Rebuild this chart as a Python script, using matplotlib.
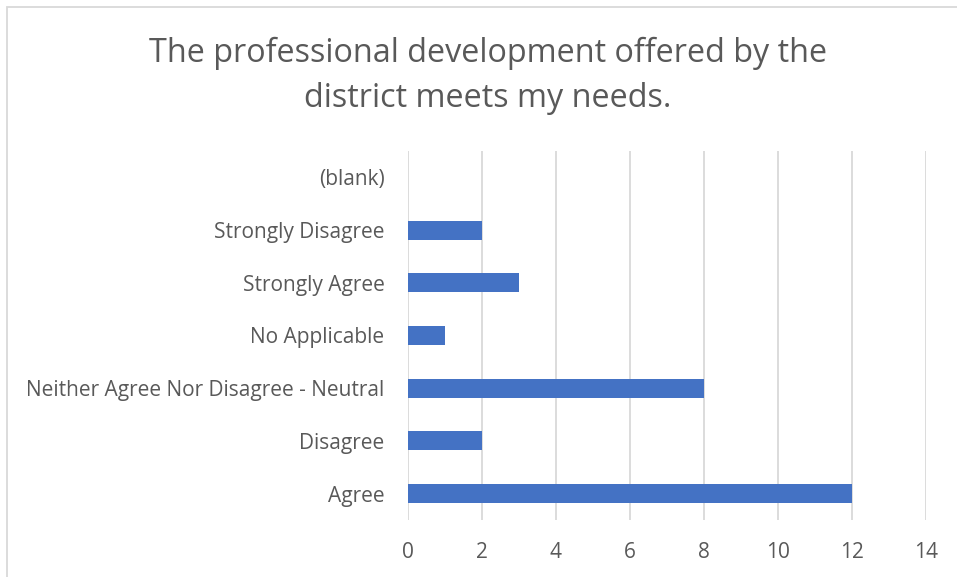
import matplotlib
matplotlib.use("Agg")
import matplotlib.pyplot as plt
from matplotlib.patches import Rectangle

# Survey responses (bottom to top as drawn)
categories = ["Agree", "Disagree", "Neither Agree Nor Disagree - Neutral",
              "No Applicable", "Strongly Agree", "Strongly Disagree", "(blank)"]
counts = [12, 2, 8, 1, 3, 2, 0]
x_ticks = [0, 2, 4, 6, 8, 10, 12, 14]
title = "The professional development offered by the\ndistrict meets my needs."

W, H = 957, 577
bar_color = "#4472C4"
grid_color = "#D9D9D9"
text_color = "#595959"

plt.rcParams['font.family'] = ['Open Sans', 'DejaVu Sans']

fig = plt.figure(figsize=(W / 100, H / 100), dpi=100)
fig.patch.set_facecolor("white")

# Chart border (clipped on the right and bottom like the source)
border = Rectangle((7 / W, -0.1), 1.2, (H - 7) / H + 0.1, transform=fig.transFigure,
                   fill=False, edgecolor=grid_color, linewidth=1.3, clip_on=False)
fig.patches.append(border)

ax = fig.add_axes([408 / W, (H - 520) / H, (926 - 408) / W, (520 - 151) / H])
ax.barh(range(len(categories)), counts, height=0.36, color=bar_color, zorder=3)

ax.set_xlim(0, 14)
ax.set_ylim(-0.5, len(categories) - 0.5)
ax.set_xticks(x_ticks)
ax.set_yticks(range(len(categories)))
ax.set_yticklabels(categories)
ax.grid(axis="x", color=grid_color, linewidth=1.3, zorder=0)
ax.set_axisbelow(True)
for side in ["top", "right", "bottom", "left"]:
    ax.spines[side].set_visible(False)
ax.tick_params(axis="both", length=0, labelsize=15, labelcolor=text_color)
ax.tick_params(axis="y", pad=17)
ax.tick_params(axis="x", pad=16)

fig.text(488 / W, (H - 76) / H, title, ha="center", va="center",
         fontsize=23.3, color=text_color, linespacing=1.5)

fig.savefig("out.png", dpi=100)
